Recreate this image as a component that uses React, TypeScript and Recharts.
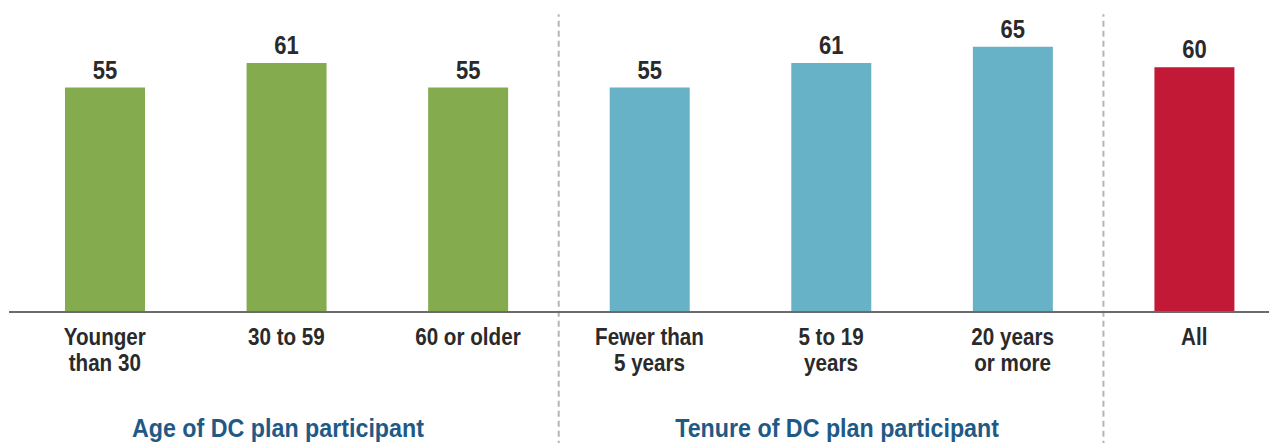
import React from 'react';
import { BarChart, Bar, XAxis, YAxis, Cell, LabelList, ReferenceLine } from 'recharts';

// Share of DC plan participants, by age / tenure
const categories = ['Younger\nthan 30', '30 to 59', '60 or older', 'Fewer than\n5 years', '5 to 19\nyears', '20 years\nor more', 'All'];
const values = [55, 61, 55, 55, 61, 65, 60];
const groups = ['age', 'age', 'age', 'tenure', 'tenure', 'tenure', 'all'];
const groupLabels = ['Age of DC plan participant', 'Tenure of DC plan participant'];
const dividers = [3, 6];

const COLORS: Record<string, string> = { age: '#84ac4f', tenure: '#67b2c7', all: '#c21a36' };
const FONT = "'Liberation Sans', Arial, sans-serif";
const SQUEEZE = 0.86; // condensed look

const data = categories.map((name, i) => ({ name, value: values[i], group: groups[i], idx: i + 0.5 }));

const MultiTick = (props: any) => {
  const { x, y, payload } = props;
  const lines = String(payload.value).split('\n');
  return (
    <text
      transform={`translate(${x} ${y + 25}) scale(${SQUEEZE} 1)`}
      textAnchor="middle"
      fill="#2a2a2a"
      fontFamily={FONT}
      fontWeight={700}
      fontSize={24}
    >
      {lines.map((l, i) => (
        <tspan key={i} x={0} dy={i === 0 ? 0 : 26}>{l}</tspan>
      ))}
    </text>
  );
};

const ValueLabel = (props: any) => {
  const { x, y, width, value } = props;
  return (
    <text
      transform={`translate(${x + width / 2} ${y - 9}) scale(${SQUEEZE + 0.02} 1)`}
      textAnchor="middle"
      fill="#2a2a2a"
      fontFamily={FONT}
      fontWeight={700}
      fontSize={25}
    >
      {value}
    </text>
  );
};

const groupStyle: React.CSSProperties = {
  position: 'absolute',
  top: 414,
  width: 600,
  textAlign: 'center',
  color: '#1f5a86',
  fontFamily: FONT,
  fontWeight: 700,
  fontSize: 25,
  whiteSpace: 'nowrap',
};

export default function App() {
  return (
    <div style={{ position: 'absolute', left: 0, top: 0, width: 1269, height: 443, overflow: 'hidden', background: '#fff' }}>
      <BarChart width={1285} height={443} data={data} margin={{ top: 6, right: 0, left: 9, bottom: 0 }}>
        <XAxis
          dataKey="name"
          height={131}
          padding={{ left: 5, right: 0 }}
          axisLine={{ stroke: '#6b6b6b', strokeWidth: 2 }}
          tickLine={false}
          interval={0}
          tick={<MultiTick />}
        />
        <XAxis
          xAxisId="num"
          dataKey="idx"
          type="number"
          domain={[0, 7]}
          allowDataOverflow
          padding={{ left: 5, right: 0 }}
          hide
        />
        <YAxis domain={[0, 75]} hide />
        {dividers.map(d => (
          <ReferenceLine
            key={d}
            xAxisId="num"
            ifOverflow="visible"
            segment={[{ x: d, y: -33 }, { x: d, y: 73 }]}
            stroke="#b5b5b5"
            strokeWidth={2}
            strokeDasharray="6 4"
          />
        ))}
        <Bar dataKey="value" barSize={80} isAnimationActive={false}>
          {data.map((d, i) => (
            <Cell key={i} fill={COLORS[d.group]} />
          ))}
          <LabelList dataKey="value" content={<ValueLabel />} />
        </Bar>
      </BarChart>
      <div style={{ ...groupStyle, left: 278 - 300 }}>
        <span style={{ display: 'inline-block', transform: 'scaleX(0.93)' }}>{groupLabels[0]}</span>
      </div>
      <div style={{ ...groupStyle, left: 837 - 300 }}>
        <span style={{ display: 'inline-block', transform: 'scaleX(0.93)' }}>{groupLabels[1]}</span>
      </div>
    </div>
  );
}
